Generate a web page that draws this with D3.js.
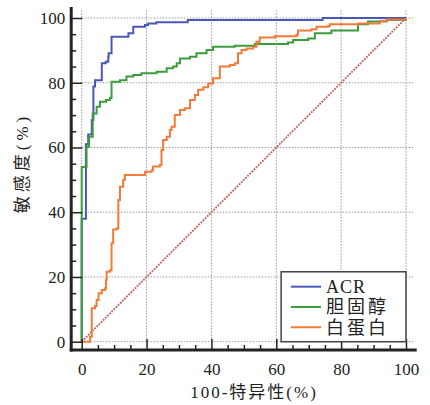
<!DOCTYPE html>
<html lang="zh">
  <head>
    <meta charset="UTF-8" />
    <title>ROC</title>
    <script src="https://cdn.jsdelivr.net/npm/d3@7"></script>
    <style>
      body { margin: 0; background: #fff; }
      svg { display: block; }
      text { font-family: "Liberation Serif", "Noto Sans CJK SC", serif; fill: #222; }
    </style>
  </head>
  <body>
    <svg width="430" height="405"></svg>
    <script>
      // roc curve vertices: [100-specificity, sensitivity]
      const acr = [[0,0],[0,38],[1.3,38],[1.3,61],[2,61],[2,64],[2.6,64],[3.1,68.5],[3.6,78.8],[4.1,80.8],[6.2,80.8],[6.2,86],[7.4,86.5],[8.2,88],[8.3,89.1],[9.2,91],[9.2,94.2],[14.4,94.2],[14.4,95.3],[15.9,95.8],[15.9,97.3],[19.5,97.8],[20.5,98.3],[23,98.7],[32.7,98.7],[32.7,99.4],[74.3,99.4],[74.3,100],[100,100]];
      const chol = [[0,0],[0,54],[1.5,54],[1.5,60.2],[2.3,60.2],[2.3,63.3],[3,63.3],[3.4,70.5],[4.6,72.6],[5.6,74.1],[7.5,74.7],[8.7,75.3],[9.2,75.3],[9.2,80.3],[11.8,80.8],[13.8,81.9],[15.9,82.4],[18.4,82.9],[23.1,83.4],[26.2,84.5],[28.2,85],[29.3,86],[30.3,87.5],[33.4,88],[35.4,89.1],[38.5,90.1],[40.5,91.1],[47.2,91.4],[53.4,92],[63.6,92.4],[65.2,93.2],[69.8,93.7],[71.9,95.3],[77,95.8],[77,96.1],[85.2,96.1],[85.2,98.1],[88.3,98.9],[91.9,98.9],[94,99.4],[100,100]];
      const alb = [[0,0],[2,0],[2.6,1.5],[3.1,3],[3.1,10.3],[4.1,11],[4.6,12.9],[5.2,15],[6.2,16],[7.2,16.5],[7.5,19.1],[7.7,21.6],[8.7,22.1],[9.2,30.4],[9.7,34.7],[10.8,35],[11.3,37.6],[11.3,43.8],[11.8,47.9],[12.8,50],[13.3,51.5],[19,51.5],[19.5,52.5],[21.6,53],[22,54.1],[24.1,54.6],[24.6,59.2],[25.1,62.3],[26.2,63.3],[27.2,65.4],[27.7,66.4],[28.7,70],[30.3,71.6],[31.8,72.1],[33.4,74.7],[34.9,76.2],[35.9,77.8],[37.5,78.6],[39,79.8],[40.5,81.4],[41.1,81.4],[42.6,85],[45.7,85.5],[47.2,86],[48.2,89.1],[49.3,90.1],[50.8,90.6],[52.9,91.1],[53.9,92.7],[54.9,94],[59.6,94.4],[66.2,94.8],[66.7,96.1],[70.9,96.5],[72.4,97.3],[76,97.5],[76.5,98.1],[85.2,98.3],[91.9,98.3],[91.9,99.1],[94,99.5],[100,100]];
      const seriesNames = ["ACR", "胆固醇", "白蛋白"];
      const colors = ["#4b57b8", "#3c9c3c", "#f47a38"];
      const ticks = [0, 20, 40, 60, 80, 100];
      const xTitle = "100-特异性(%)";
      const yTitle = "敏感度(%)";

      const svg = d3.select("svg");
      const x = d3.scaleLinear().domain([0, 100]).range([81.7, 406]);
      const y = d3.scaleLinear().domain([0, 100]).range([341.7, 18]);

      // dotted grid
      const grid = svg.append("g")
        .attr("stroke", "#9a9a9a").attr("stroke-width", 1).attr("stroke-dasharray", "1.5,1.5");
      grid.selectAll(".gx").data(ticks).join("line")
        .attr("x1", d => x(d)).attr("x2", d => x(d))
        .attr("y1", y(0)).attr("y2", y(102.4));
      grid.selectAll(".gy").data(ticks).join("line")
        .attr("y1", d => y(d)).attr("y2", d => y(d))
        .attr("x1", x(0)).attr("x2", x(102.2));

      // reference diagonal
      svg.append("line")
        .attr("x1", x(0)).attr("y1", y(0)).attr("x2", x(100)).attr("y2", y(100))
        .attr("stroke", "#c0706c").attr("stroke-width", 1.9).attr("stroke-dasharray", "2,1");

      const line = d3.line().x(d => x(d[0])).y(d => y(d[1])).curve(d3.curveStepAfter);
      [acr, chol, alb].forEach((s, i) => {
        svg.append("path").attr("d", line(s))
          .attr("fill", "none").attr("stroke", colors[i]).attr("stroke-width", 2);
      });

      // axes, offset from the plot
      const ax0 = x(0) - 10.5, ay0 = y(0) + 8.3;
      const minor = d3.range(0, 101, 5).filter(d => d % 20 !== 0);

      const yMinor = svg.append("g").attr("transform", `translate(${ax0},0)`)
        .call(d3.axisLeft(y).tickValues(minor).tickSize(-5).tickFormat(""));
      const yMajor = svg.append("g").attr("transform", `translate(${ax0},0)`)
        .call(d3.axisLeft(y).tickValues(ticks).tickSize(-11).tickPadding(6));
      const xMinor = svg.append("g").attr("transform", `translate(0,${ay0})`)
        .call(d3.axisBottom(x).tickValues(minor).tickSize(-5).tickFormat(""));
      const xMajor = svg.append("g").attr("transform", `translate(0,${ay0})`)
        .call(d3.axisBottom(x).tickValues(ticks).tickSize(-11).tickPadding(13));

      [yMinor, yMajor, xMinor, xMajor].forEach(g => {
        g.select(".domain").remove();
        g.selectAll("line").attr("stroke", "#222").attr("stroke-width", 1.5);
        g.selectAll("text").attr("font-size", 17).attr("fill", "#222")
          .style("font-family", '"Liberation Serif", serif');
      });

      svg.append("line").attr("x1", ax0).attr("x2", ax0).attr("y1", y(103.4)).attr("y2", ay0 + 1.5)
        .attr("stroke", "#222").attr("stroke-width", 3);
      svg.append("line").attr("x1", ax0 - 1.5).attr("x2", x(103.3)).attr("y1", ay0).attr("y2", ay0)
        .attr("stroke", "#222").attr("stroke-width", 3);

      // titles
      svg.append("text").attr("x", 254).attr("y", 398).attr("text-anchor", "middle")
        .attr("font-size", 17).attr("letter-spacing", 2).text(xTitle);
      svg.append("text").attr("transform", `translate(28,${163}) rotate(-90)`)
        .attr("text-anchor", "middle").attr("font-size", 17).attr("letter-spacing", 4).text(yTitle);

      // legend
      const lg = svg.append("g");
      lg.append("rect")
        .attr("x", x(61.5)).attr("y", y(21.6))
        .attr("width", x(100) - x(61.5)).attr("height", y(0) - y(21.6))
        .attr("fill", "#fff").attr("stroke", "#444").attr("stroke-width", 1.5);
      seriesNames.forEach((name, i) => {
        const ly = y(17) + i * 20.3;
        lg.append("line").attr("x1", x(64.5)).attr("x2", x(73.8)).attr("y1", ly).attr("y2", ly)
          .attr("stroke", colors[i]).attr("stroke-width", 2);
        lg.append("text").attr("x", x(75.3)).attr("y", ly).attr("dy", "0.36em")
          .attr("font-size", 18).attr("letter-spacing", i === 0 ? 1 : 3).text(name);
      });
    </script>
  </body>
</html>
